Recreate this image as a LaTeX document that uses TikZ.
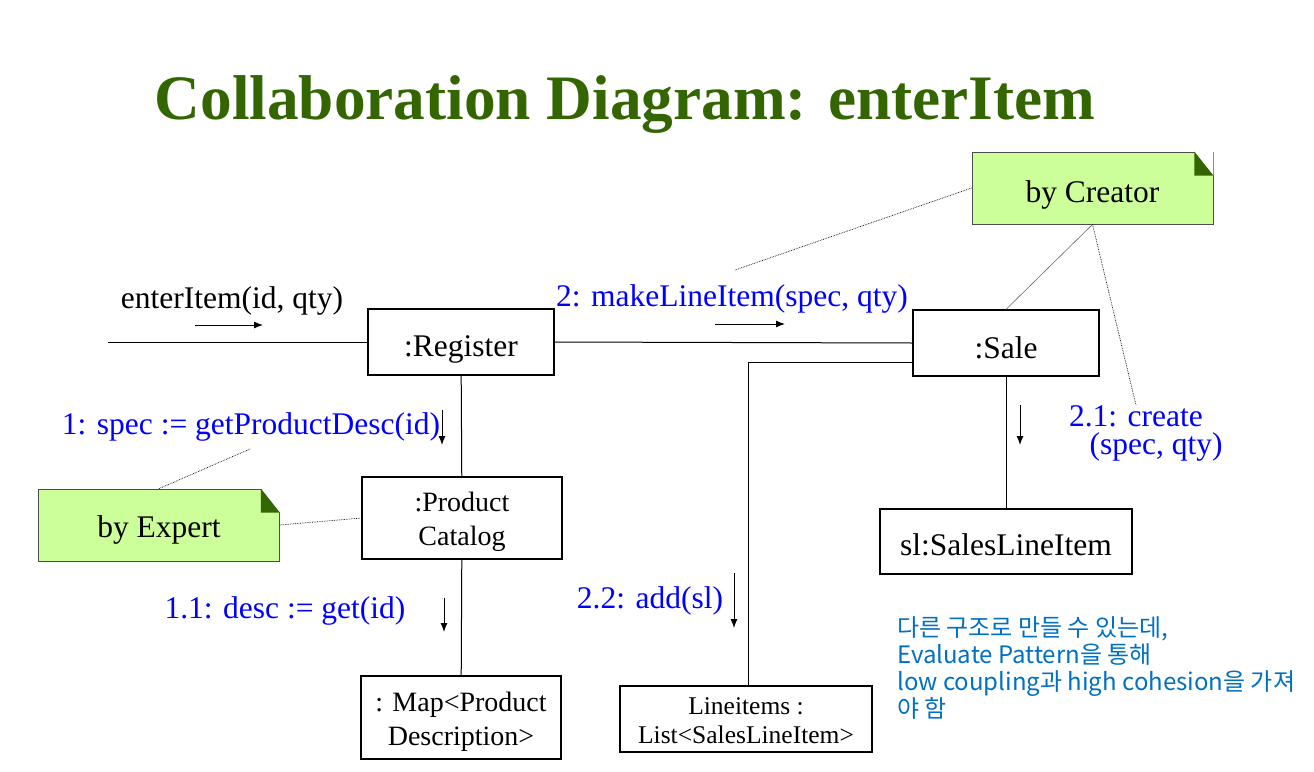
\documentclass[tikz,border=0pt]{standalone}
\usepackage{fontspec}
\setmainfont{Liberation Serif}
\newfontfamily\krfont{Noto Sans CJK KR}
\usetikzlibrary{arrows, arrows.meta, positioning}

\definecolor{titlegreen}{RGB}{51,102,0}
\definecolor{notegreen}{RGB}{204,255,153}
\definecolor{notefold}{RGB}{51,102,0}
\definecolor{msgblue}{RGB}{0,0,255}
\definecolor{memoblue}{RGB}{0,112,192}

\tikzset{
  obj/.style={draw, line width=1.2pt, fill=white, align=center, inner sep=0pt,
    text height=28pt, text depth=0pt, font=\fontsize{31.5}{34.5}\selectfont},
  twoline/.style={text height=55pt, text depth=0pt, font=\fontsize{28}{34.5}\selectfont},
  note/.style={draw=black!70, line width=0.8pt, fill=notegreen, inner sep=0pt,
    minimum width=241pt, minimum height=72pt, text depth=0pt,
    font=\fontsize{31.5}{35}\selectfont},
  link/.style={line width=1pt},
  anno/.style={line width=0.7pt, densely dotted},
  msg/.style={-{Latex[length=9pt,width=7pt]}, line width=1pt},
  lbl/.style={text=msgblue, inner sep=0pt, font=\fontsize{31.5}{35}\selectfont},
}

\begin{document}
\begin{tikzpicture}[x=1pt, y=-1pt]
\useasboundingbox (0,0) rectangle (1314,771);

% title
\node[anchor=base, text=titlegreen, font=\fontsize{63.3}{70}\selectfont\bfseries] (title) at (625,119) {Collaboration Diagram: enterItem};

% objects
\node[obj, minimum width=186pt, minimum height=66pt] (reg) at (461,342) {:Register};
\node[obj, minimum width=186pt, minimum height=66pt, text height=30pt] (sale) at (1006,343) {:Sale};
\node[obj, twoline, minimum width=200pt, minimum height=82pt] (cat) at (462,518) {:Product\\Catalog};
\node[obj, minimum width=252pt, minimum height=65pt, text height=27pt] (sli) at (1006,541.5) {sl:SalesLineItem};
\node[obj, twoline, text height=56pt, minimum width=200pt, minimum height=83pt] (map) at (461,717.5) {: Map<Product\\Description>};
\node[obj, minimum width=252pt, minimum height=66pt, text height=48pt,
  font=\fontsize{25.5}{29}\selectfont] (items) at (746,719) {Lineitems :\\List<SalesLineItem>};

% notes
\node[note, text height=28pt] (creator) at (1092.5,188) {by Creator};
\node[note, text height=25pt] (expert) at (159,525) {by Expert};
\foreach \n in {creator, expert} {
  \fill[white] ([xshift=-19pt]\n.north east) -- (\n.north east) -- ([yshift=-24pt]\n.north east) -- cycle;
  \fill[notefold] ([xshift=-19pt]\n.north east) -- ([xshift=-19pt,yshift=-24pt]\n.north east) -- ([yshift=-24pt]\n.north east) -- cycle;
}

% message labels
\node[inner sep=0pt, font=\fontsize{31.5}{35}\selectfont] (enter) at (232,301) {enterItem(id, qty)};
\node[lbl] (make) at (732,299) {2: makeLineItem(spec, qty)};
\node[lbl] (spec) at (251,427) {1: spec := getProductDesc(id)};
\node[lbl] (create) at (1136,416) {2.1: create};
\node[lbl] (createargs) at (1156,447) {(spec, qty)};
\node[lbl] (desc) at (285,611) {1.1: desc := get(id)};
\node[lbl] (add) at (650,601) {2.2: add(sl)};

% links
\coordinate (in) at (108,342);
\coordinate (bend) at (748,362);
\draw[link] (in) -- (reg.west);
\draw[link] (reg.east) -- (sale.west);
\draw[link] (reg) -- (cat);
\draw[link] (cat) -- (map);
\draw[link] (sale) -- (sli);
\draw[link] (sale.west |- bend) -- (bend) -- (bend |- items.north);

% note connectors
\coordinate (tipA) at (735,270);
\coordinate (tipB) at (250,449);
\draw[line width=0.6pt, black!60] (creator.south) -- (sale.north);
\draw[anno] (creator.south) -- (create.north);
\draw[anno] (creator.west) -- (tipA);
\draw[anno] (expert.east) -- (cat.west);
\draw[anno] (expert.north) -- (tipB);

% message arrows
\coordinate (m0) at (195,325);
\coordinate (m2) at (715,324);
\coordinate (m1) at (442,410);
\coordinate (m21) at (1020,405);
\coordinate (m11) at (444,598);
\coordinate (m22) at (734,573);
\draw[msg] (m0) -- ++(68,0);
\draw[msg] (m2) -- ++(70,0);
\draw[msg] (m1) -- ++(0,35);
\draw[msg] (m21) -- ++(0,40);
\draw[msg] (m11) -- ++(0,34);
\draw[msg] (m22) -- ++(0,55);

% remark
\node[anchor=north west, align=left, inner sep=0pt, text=memoblue, font=\krfont\fontsize{24}{27}\selectfont] (memo) at (897,616)
  {다른 구조로 만들 수 있는데,\\Evaluate Pattern을 통해\\low coupling과 high cohesion을 가져\\야 함};
\end{tikzpicture}
\end{document}
